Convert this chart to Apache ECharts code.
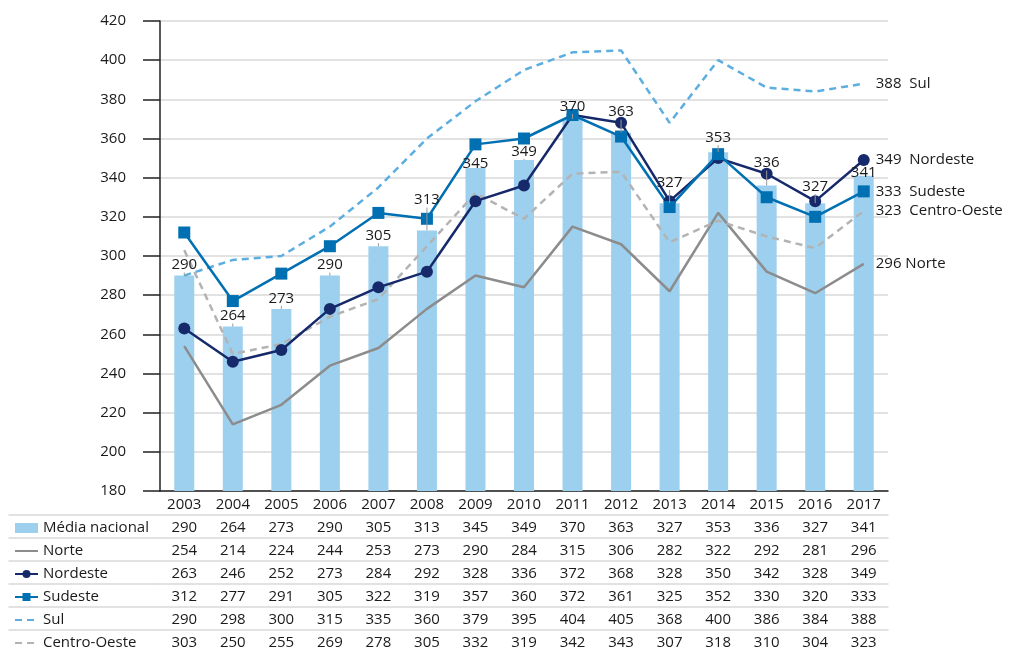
<!DOCTYPE html>
<html>
<head>
<meta charset="utf-8">
<script src="https://cdn.jsdelivr.net/npm/echarts@6/dist/echarts.min.js"></script>
<style>
  html, body { margin: 0; padding: 0; background: #fff; }
  #chart { width: 1013px; height: 651px; }
</style>
</head>
<body>
<div id="chart"></div>
<script>
var anos = ['2003','2004','2005','2006','2007','2008','2009','2010','2011','2012','2013','2014','2015','2016','2017'];
var mediaNacional = [290,264,273,290,305,313,345,349,370,363,327,353,336,327,341];
var norte = [254,214,224,244,253,273,290,284,315,306,282,322,292,281,296];
var nordeste = [263,246,252,273,284,292,328,336,372,368,328,350,342,328,349];
var sudeste = [312,277,291,305,322,319,357,360,372,361,325,352,330,320,333];
var sul = [290,298,300,315,335,360,379,395,404,405,368,400,386,384,388];
var centroOeste = [303,250,255,269,278,305,332,319,342,343,307,318,310,304,323];
var ticksY = [180,200,220,240,260,280,300,320,340,360,380,400,420];

var linhas = [
  {nome: 'Média nacional', valores: mediaNacional},
  {nome: 'Norte', valores: norte},
  {nome: 'Nordeste', valores: nordeste},
  {nome: 'Sudeste', valores: sudeste},
  {nome: 'Sul', valores: sul},
  {nome: 'Centro-Oeste', valores: centroOeste}
];

// deslocamento vertical dos rótulos das barras (como no original)
var ajusteRotulo = [0,0,0,0,0,-20,6,2,-2,-10,-10,-4,-12,-6,8];

var cinzaTabela = '#d9d9d9';
var texto = '#1a1a1a';
var alturaLinha = 23;

// eixos que desenham a tabela abaixo do gráfico
var eixosX = [{
  type: 'category',
  gridIndex: 0,
  data: anos,
  axisLine: {onZero: false, lineStyle: {color: '#222', width: 1.5}},
  axisTick: {length: 24, lineStyle: {color: cinzaTabela, width: 1.5}},
  axisLabel: {interval: 0, margin: 6, color: texto, fontSize: 15}
}];
linhas.forEach(function (l, k) {
  eixosX.push({
    type: 'category',
    gridIndex: 0,
    data: anos,
    position: 'bottom',
    offset: 24 + alturaLinha * k,
    axisLine: {onZero: false, lineStyle: {color: cinzaTabela, width: 1.5}},
    axisTick: {length: alturaLinha, lineStyle: {color: cinzaTabela, width: 1.5}},
    axisLabel: {
      interval: 0, margin: 5, color: texto, fontSize: 15,
      formatter: function (v, i) { return String(l.valores[i]); }
    }
  });
});
// coluna da legenda, à esquerda
linhas.forEach(function (l, k) {
  eixosX.push({
    type: 'category',
    gridIndex: 1,
    data: [''],
    position: 'bottom',
    offset: 24 + alturaLinha * k,
    axisLine: {onZero: false, lineStyle: {color: cinzaTabela, width: 1.5}},
    axisTick: {length: alturaLinha, lineStyle: {color: cinzaTabela, width: 1.5}},
    axisLabel: {show: false}
  });
});

function endLabel(nome, sep) {
  return {
    show: true, distance: 12, color: texto, fontSize: 15,
    formatter: function (p) { return p.value + sep + nome; }
  };
}

var semSimbolo = {opacity: 0};

var chart = echarts.init(document.getElementById('chart'));
chart.setOption({
  animation: false,
  textStyle: {fontFamily: 'Open Sans'},
  grid: [
    {left: 160, right: 125, top: 21, bottom: 160},
    {left: 9, width: 151, top: 21, bottom: 160}
  ],
  legend: {
    orient: 'vertical',
    left: 14,
    top: 519,
    height: 160,
    padding: 0,
    itemWidth: 23,
    itemHeight: 10,
    itemGap: 5,
    selectedMode: false,
    textStyle: {fontSize: 15, lineHeight: 18, color: texto},
    data: [
      {name: 'Média nacional', icon: 'rect'},
      {name: 'Norte', itemStyle: semSimbolo},
      'Nordeste',
      'Sudeste',
      {name: 'Sul', itemStyle: semSimbolo},
      {name: 'Centro-Oeste', itemStyle: semSimbolo}
    ]
  },
  xAxis: eixosX,
  yAxis: [{
    type: 'value',
    gridIndex: 0,
    min: ticksY[0],
    max: ticksY[ticksY.length - 1],
    interval: 20,
    axisLine: {show: true, lineStyle: {color: '#222', width: 1.5}},
    axisTick: {show: true, length: 17, lineStyle: {color: '#222', width: 1.5}},
    axisLabel: {margin: 34, color: texto, fontSize: 15},
    splitLine: {lineStyle: {color: cinzaTabela, width: 1.5}}
  }, {
    type: 'value',
    gridIndex: 1,
    show: false
  }],
  series: [
    {
      name: 'Média nacional',
      type: 'bar',
      barWidth: 20,
      itemStyle: {color: '#9dd0ee'},
      data: mediaNacional,
      z: 1
    },
    {
      name: 'Norte',
      type: 'line',
      symbol: 'none',
      lineStyle: {color: '#8c8c8c', width: 2.5},
      itemStyle: {color: '#8c8c8c'},
      endLabel: endLabel('Norte', ' '),
      data: norte,
      z: 3
    },
    {
      name: 'Sul',
      type: 'line',
      symbol: 'none',
      lineStyle: {color: '#5caee0', width: 2.5, type: [7, 5]},
      itemStyle: {color: '#5caee0'},
      endLabel: endLabel('Sul', '  '),
      data: sul,
      z: 3
    },
    {
      name: 'Centro-Oeste',
      type: 'line',
      symbol: 'none',
      lineStyle: {color: '#b3b3b3', width: 2.5, type: [7, 5]},
      itemStyle: {color: '#b3b3b3'},
      endLabel: endLabel('Centro-Oeste', '  '),
      data: centroOeste,
      z: 3
    },
    {
      name: 'Nordeste',
      type: 'line',
      symbol: 'circle',
      symbolSize: 12,
      lineStyle: {color: '#16296b', width: 2.5},
      itemStyle: {color: '#16296b'},
      endLabel: endLabel('Nordeste', '  '),
      data: nordeste,
      z: 4
    },
    {
      name: 'Sudeste',
      type: 'line',
      symbol: 'rect',
      symbolSize: 12,
      lineStyle: {color: '#0070b2', width: 2.5},
      itemStyle: {color: '#0070b2'},
      endLabel: endLabel('Sudeste', '  '),
      data: sudeste,
      z: 4
    },
    {
      // rótulos da média nacional, desenhados por cima das linhas
      name: 'rotulosMedia',
      type: 'bar',
      barWidth: 20,
      barGap: '-100%',
      itemStyle: {color: 'rgba(0,0,0,0)'},
      silent: true,
      label: {show: true, position: 'top', distance: 3, color: texto, fontSize: 15},
      labelLayout: function (p) { return {dy: ajusteRotulo[p.dataIndex]}; },
      labelLine: {show: true, minTurnAngle: 0, lineStyle: {color: '#999', width: 1}},
      data: mediaNacional,
      z: 10
    }
  ]
});
</script>
</body>
</html>
